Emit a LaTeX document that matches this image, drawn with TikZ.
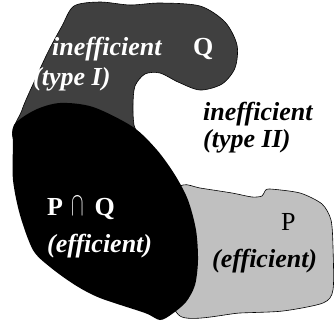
\documentclass[tikz,border=0pt]{standalone}
\usepackage{fontspec}
\setmainfont{Liberation Serif}
\begin{document}
\begin{tikzpicture}[x=1pt,y=-1pt,
  lbl/.style={inner sep=0pt, anchor=base west, font=\fontsize{26}{29}\selectfont\bfseries\itshape},
  lblup/.style={inner sep=0pt, anchor=base west, font=\fontsize{26}{29}\selectfont\bfseries},
  lblreg/.style={inner sep=0pt, anchor=base west, font=\fontsize{26}{29}\selectfont},
  region/.style={draw=black, line width=0.6pt}]
\definecolor{qgray}{HTML}{404040}
\definecolor{pgray}{HTML}{C0C0C0}
\useasboundingbox (0,0) rectangle (335,325);
% Q region (dark gray)
\draw[region, fill=qgray] plot[smooth cycle, tension=0.5] coordinates {
  (15,140) (22,110) (35,80) (48,52) (62,26) (74,6) (100,2) (130,5) (160,3)
  (200,6) (225,22) (237,45) (235,68) (222,84) (200,90) (178,82) (160,73)
  (145,74) (135,86) (133,105) (134,125) (140,150) (80,160)};
% P region (light gray)
\draw[region, fill=pgray] plot[smooth cycle, tension=0.45] coordinates {
  (183,185) (200,188) (232,193) (252,197) (262,196) (265,191) (270,189)
  (300,193) (322,204) (331,220) (333,247) (333,290) (323,303) (283,311)
  (240,313) (180,316) (160,260) (165,200)};
% P cap Q region (black)
\fill[black] plot[smooth cycle, tension=0.5] coordinates {
  (14,125) (35,110) (60,103) (93,107) (133,127) (157,150) (175,175)
  (188,200) (196,230) (198,260) (195,285) (186,302) (172,314) (160,320)
  (145,313) (100,298) (75,285) (50,267) (33,250) (20,215) (13,180) (13,145)};
% labels
\node[lbl, text=white] (ineff1) at (52,55) {inefficient};
\node[lblup, text=white] (qlab) at (193,55) {Q};
\node[lbl, text=white] (type1) at (33,85) {(type I)};
\node[lbl] (ineff2) at (203,120) {inefficient};
\node[lbl] (type2) at (203,147) {(type II)};
\node[lblup, text=white] (pq) at (47,215) {P\hspace{8pt}\scalebox{0.75}[1.35]{\mdseries$\cap$}\hspace{11pt}Q};
\node[lbl, text=white] (eff1) at (47,252) {(efficient)};
\node[lblreg] (plab) at (281,230) {P};
\node[lbl] (eff2) at (212,267) {(efficient)};
\end{tikzpicture}
\end{document}
